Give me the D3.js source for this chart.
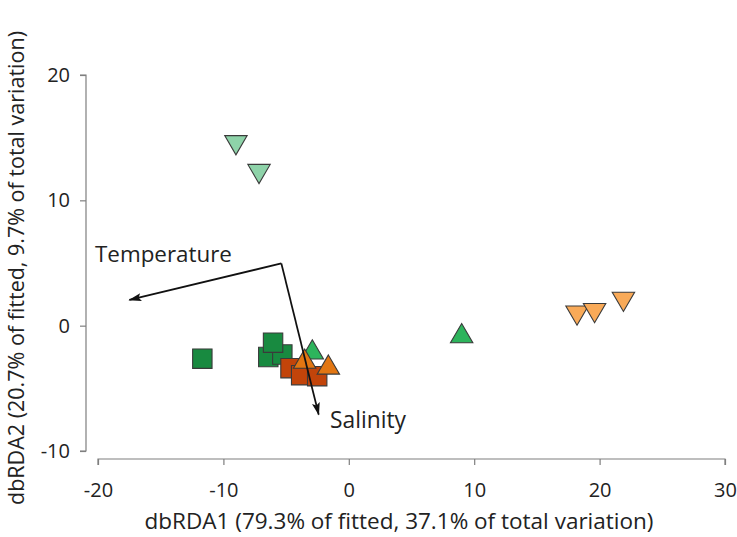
<!DOCTYPE html>
<html><head><meta charset="utf-8">
<script src="https://cdn.jsdelivr.net/npm/d3@7"></script>
<style>body{margin:0;background:#fff}svg{display:block}text{font-family:"Open Sans",sans-serif}</style>
</head><body><svg id="c" width="737" height="537"></svg>
<script>
const xTicks = [-20,-10,0,10,20,30];
const yTicks = [-10,0,10,20];
const xTitle = "dbRDA1 (79.3% of fitted, 37.1% of total variation)";
const yTitle = "dbRDA2 (20.7% of fitted, 9.7% of total variation)";

// groups: name, shape, fill
const groupNames = ["darkGreenSq","lightGreenDown","greenUp","redSq","orangeUp","lightOrangeDown"];
const groupShapes = ["square","down","up","square","up","down"];
const groupFills = ["#188a40","#8ed3a9","#2db45c","#c2440a","#e27612","#f9aa58"];

const ptGroup = ["darkGreenSq","darkGreenSq","darkGreenSq","darkGreenSq","lightGreenDown","lightGreenDown","greenUp","greenUp","redSq","redSq","redSq","orangeUp","orangeUp","lightOrangeDown","lightOrangeDown","lightOrangeDown"];
const ptX = [-11.68,-6.42,-5.30,-6.04,-9.0,-7.16,9.0,-2.91,-4.65,-3.80,-2.52,-3.52,-1.63,18.2,19.6,21.9];
const ptY = [-2.63,-2.5,-2.3,-1.36,14.4,12.1,-0.6,-1.89,-3.39,-3.95,-4.03,-2.63,-3.1,0.8,1.0,1.9];

const vecNames = ["Temperature","Salinity"];
const vecOrigin = [-5.38,4.97];
const vecTipX = [-17.5,-2.4];
const vecTipY = [2.05,-7.1];

const svg = d3.select("#c");
const x = d3.scaleLinear().domain([-20,30]).range([98,725]);
const y = d3.scaleLinear().domain([-10,20]).range([451,75]);

const axisCol = "#7f7f7f";
const ya = svg.append("g").attr("transform","translate(86,0)")
  .call(d3.axisLeft(y).tickValues(yTicks).tickSize(6).tickPadding(10).tickFormat(d3.format("d")));
const xa = svg.append("g").attr("transform","translate(0,459)")
  .call(d3.axisBottom(x).tickValues(xTicks).tickSize(6).tickPadding(18).tickFormat(d3.format("d")));
[ya,xa].forEach(g=>{
  g.selectAll("path,line").attr("stroke",axisCol).attr("stroke-width",1.2);
  g.selectAll("text").attr("font-size",20).attr("fill","#222").style("font-family","'Open Sans',sans-serif");
});
ya.select(".domain").attr("d","M-6,"+y(20)+"H0V"+y(-10)+"H-6");
xa.select(".domain").attr("d","M"+x(-20)+",6V0H"+x(30)+"V6");
ya.selectAll("text").text(d=>d<0?"-"+Math.abs(d):d);
xa.selectAll("text").text(d=>d<0?"-"+Math.abs(d):d);

svg.append("text").attr("x",399).attr("y",529).attr("text-anchor","middle")
  .attr("font-size",22.5).attr("fill","#222").text(xTitle);
svg.append("text").attr("transform","translate(24,268) rotate(-90)").attr("text-anchor","middle")
  .attr("font-size",21.5).attr("fill","#222").text(yTitle);

const shapeOf = g => groupShapes[groupNames.indexOf(g)];
const fillOf = g => groupFills[groupNames.indexOf(g)];
const pts = ptX.map((v,i)=>({x:v,y:ptY[i],g:ptGroup[i]}));
function pathFor(s){
  if(s==="square"){const h=9.7;return `M${-h},${-h}H${h}V${h}H${-h}Z`;}
  const w=11.2,hh=9.6;
  if(s==="up") return `M0,${-hh}L${w},${hh}L${-w},${hh}Z`;
  return `M${-w},${-hh}L${w},${-hh}L0,${hh}Z`;
}
svg.append("g").selectAll("path").data(pts).join("path")
  .attr("transform",d=>`translate(${x(d.x)},${y(d.y)})`)
  .attr("d",d=>pathFor(shapeOf(d.g)))
  .attr("fill",d=>fillOf(d.g)).attr("stroke","#3a3a3a").attr("stroke-width",1.1);

svg.append("defs").append("marker").attr("id","ah").attr("viewBox","0 0 13 8")
  .attr("refX",12).attr("refY",4).attr("markerWidth",13).attr("markerHeight",8)
  .attr("markerUnits","userSpaceOnUse").attr("orient","auto")
  .append("path").attr("d","M0,0L13,4L0,8L2.5,4Z").attr("fill","#111");
vecNames.forEach((n,i)=>{
  svg.append("line").attr("x1",x(vecOrigin[0])).attr("y1",y(vecOrigin[1]))
    .attr("x2",x(vecTipX[i])).attr("y2",y(vecTipY[i]))
    .attr("stroke","#111").attr("stroke-width",1.8).attr("marker-end","url(#ah)");
});
svg.append("text").attr("x",95).attr("y",262).attr("font-size",22.4).attr("fill","#222").text(vecNames[0]);
svg.append("text").attr("x",330).attr("y",428).attr("font-size",22.8).attr("fill","#222").text(vecNames[1]);
</script></body></html>
